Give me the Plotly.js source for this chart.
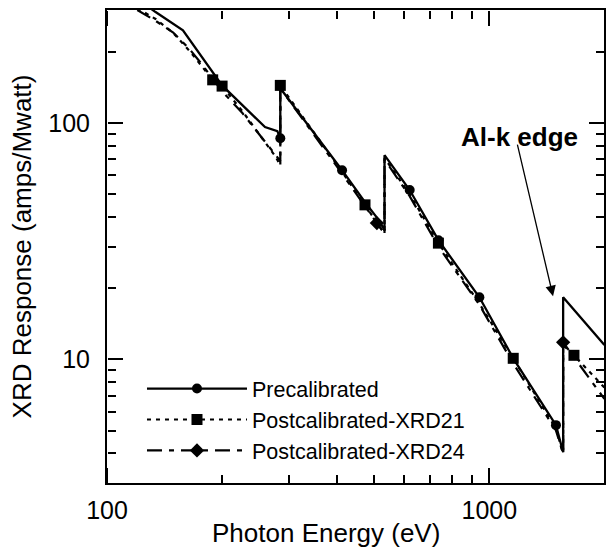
<!DOCTYPE html>
<html>
<head>
<meta charset="utf-8">
<script src="https://cdn.plot.ly/plotly-3.0.1.min.js"></script>
<style>html,body{margin:0;padding:0;background:#fff;}#chart{width:606px;height:547px;}</style>
</head>
<body>
<div id="chart"></div>
<script>
// ---- data ----
const seriesNames = ['Precalibrated', 'Postcalibrated-XRD21', 'Postcalibrated-XRD24'];

// Precalibrated (solid, circles)
const prE = [128, 134, 158, 186, 200, 236, 259, 279, 284, 284, 412, 473, 514, 532, 532, 619, 736, 942, 1155, 1494, 1560, 1560, 2000];
const prR = [310, 294, 246, 170, 144, 111, 96, 92.2, 86, 140, 63, 46.2, 38.8, 35.2, 73, 52, 31.9, 18.3, 10.1, 5.27, 4.05, 18.3, 11.5];
const prMarkE = [284, 412, 619, 736, 942, 1494];
const prMarkR = [86, 63, 52, 31.9, 18.3, 5.27];

// Postcalibrated-XRD21 (dotted, squares)
const p21E = [120, 134, 149, 165, 189, 200, 226, 255, 276, 284, 284, 412, 473, 532, 532, 619, 736, 942, 1155, 1494, 1560, 1560, 1665, 2000];
const p21R = [305, 275, 240, 200, 152, 143, 112, 86, 72, 66, 144, 62, 45, 34, 71, 50, 31, 17.2, 10.1, 5.1, 4.0, 11.5, 10.4, 7.6];
const p21MarkE = [189, 200, 284, 473, 736, 1155, 1665];
const p21MarkR = [152, 143, 144, 45, 31, 10.1, 10.4];

// Postcalibrated-XRD24 (dash-dot, diamonds)
const p24E = [120, 134, 149, 164, 178, 200, 226, 255, 276, 284, 284, 412, 508, 532, 532, 619, 736, 942, 1155, 1494, 1560, 1560, 2000];
const p24R = [300, 270, 241, 206, 175, 136, 110, 86, 74, 69, 140, 61, 37.7, 34, 70, 49, 30, 17, 9.6, 5.0, 4.0, 11.8, 6.8];
const p24MarkE = [508, 1560];
const p24MarkR = [37.7, 11.8];

// tick positions
const xMajorTicks = [100, 1000];
const xMinorTicks = [200, 300, 400, 500, 600, 700, 800, 900, 2000];
const yMajorTicks = [10, 100];
const yMinorTicks = [4, 5, 6, 7, 8, 9, 20, 30, 40, 50, 60, 70, 80, 90, 200];

const xTitle = 'Photon Energy (eV)';
const yTitle = 'XRD Response (amps/Mwatt)';
const annText = 'Al-k edge';
const annTextE = 1196, annTextR = 87;
const arrowTipE = 1468, arrowTipR = 18.5;

// ---- build ----
function pick(xs, ys, mx, my) {
  const idx = [];
  for (let i = 0; i < xs.length; i++) {
    for (let j = 0; j < mx.length; j++) {
      if (xs[i] === mx[j] && ys[i] === my[j]) { idx.push(i); break; }
    }
  }
  return idx;
}

const FONT = 'Liberation Sans, Arial, Helvetica, sans-serif';
const NOGRID = 'rgba(0,0,0,0)';
const X_RANGE = [2, 3.3];
const Y_RANGE = [Math.log10(3), Math.log10(300)];

function mk(name, xs, ys, mx, my, dash, width, symbol, msize) {
  return {
    type: 'scatter', mode: 'lines+markers', name: name, x: xs, y: ys,
    line: {color: '#000', width: width, dash: dash},
    marker: {color: '#000', symbol: symbol, size: msize},
    selectedpoints: pick(xs, ys, mx, my),
    selected: {marker: {opacity: 1}},
    unselected: {marker: {opacity: 0}},
    hoverinfo: 'x+y+name'
  };
}

const traces = [
  mk(seriesNames[0], prE, prR, prMarkE, prMarkR, 'solid', 2.3, 'circle', 10),
  mk(seriesNames[1], p21E, p21R, p21MarkE, p21MarkR, '4px,5px', 2.2, 'square', 11),
  mk(seriesNames[2], p24E, p24R, p24MarkE, p24MarkR, '15px,7px,5px,7px', 2.2, 'diamond', 11)
];

// main axes: frame line and tick labels
function mainAxis(extra) {
  return Object.assign({
    type: 'log', gridcolor: NOGRID,
    showline: true, linecolor: '#000', linewidth: 2, mirror: true,
    ticks: '', tickmode: 'linear', tick0: 0, dtick: 1, exponentformat: 'none',
    tickfont: {family: FONT, size: 25, color: '#000'}
  }, extra);
}

// tick-only overlay axes: 'outside' ticks on an axis whose side faces away
// from the frame edge it sits on, so the marks point into the plot
function tickAxis(letter, range, vals, len, position, side) {
  return {
    type: 'log', range: range, overlaying: letter, anchor: 'free',
    position: position, side: side,
    tickmode: 'array', tickvals: vals,
    ticks: 'outside', ticklen: len, tickwidth: 2, tickcolor: '#000',
    showticklabels: false, showline: false, gridcolor: NOGRID
  };
}

const layout = {
  width: 606, height: 547,
  margin: {l: 107, r: 2, t: 10, b: 64},
  paper_bgcolor: '#fff', plot_bgcolor: '#fff',
  font: {family: FONT, color: '#000'},
  showlegend: true,
  legend: {
    x: 0.0704, y: 0.243, xanchor: 'left', yanchor: 'top',
    bgcolor: 'rgba(0,0,0,0)', borderwidth: 0,
    font: {family: FONT, size: 21.5, color: '#000'},
    itemwidth: 100, tracegroupgap: 0
  },
  xaxis: mainAxis({range: X_RANGE, ticklabelstandoff: 4}),
  yaxis: mainAxis({
    range: Y_RANGE,
    ticklabelstandoff: 10,
    title: {text: yTitle, font: {family: FONT, size: 26, color: '#000'}, standoff: 9}
  }),
  xaxis2: tickAxis('x', X_RANGE, xMajorTicks, 15, 0, 'top'),
  xaxis3: tickAxis('x', X_RANGE, xMajorTicks, 15, 1, 'bottom'),
  xaxis4: tickAxis('x', X_RANGE, xMinorTicks, 8, 0, 'top'),
  xaxis5: tickAxis('x', X_RANGE, xMinorTicks, 8, 1, 'bottom'),
  yaxis2: tickAxis('y', Y_RANGE, yMajorTicks, 15, 0, 'right'),
  yaxis3: tickAxis('y', Y_RANGE, yMajorTicks, 15, 1, 'left'),
  yaxis4: tickAxis('y', Y_RANGE, yMinorTicks, 8, 0, 'right'),
  yaxis5: tickAxis('y', Y_RANGE, yMinorTicks, 8, 1, 'left'),
  annotations: [
    {
      x: 0.4406, y: 0, xref: 'paper', yref: 'paper', yanchor: 'middle', yshift: -50,
      text: xTitle, showarrow: false,
      font: {family: FONT, size: 26, color: '#000'}
    },
    {
      x: Math.log10(annTextE), y: Math.log10(annTextR), xref: 'x', yref: 'y',
      text: '<b>' + annText + '</b>', showarrow: false,
      font: {family: FONT, size: 26, color: '#000'}
    },
    {
      x: Math.log10(arrowTipE), y: Math.log10(arrowTipR), xref: 'x', yref: 'y',
      text: '', showarrow: true, ax: -36, ay: -153,
      arrowhead: 2, arrowsize: 1.6, arrowwidth: 1.3, arrowcolor: '#000'
    }
  ]
};

// empty carrier traces so each tick-only overlay axis gets a subplot
['x2', 'x3', 'x4', 'x5'].forEach(function (id) {
  traces.push({type: 'scatter', mode: 'lines', x: [], y: [], xaxis: id, yaxis: 'y', showlegend: false, hoverinfo: 'skip'});
});
['y2', 'y3', 'y4', 'y5'].forEach(function (id) {
  traces.push({type: 'scatter', mode: 'lines', x: [], y: [], xaxis: 'x', yaxis: id, showlegend: false, hoverinfo: 'skip'});
});

Plotly.newPlot('chart', traces, layout, {displayModeBar: false});
</script>
</body>
</html>
